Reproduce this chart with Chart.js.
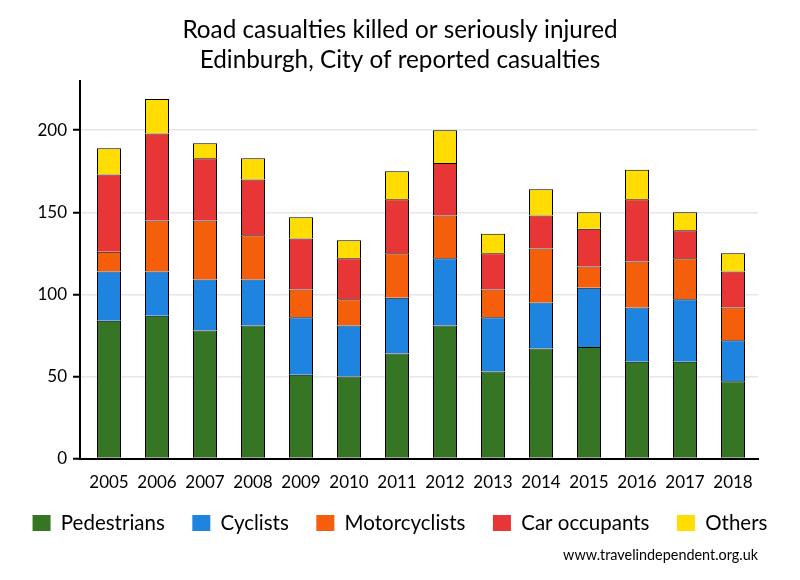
<!DOCTYPE html>
<html>
<head>
<meta charset="utf-8">
<script src="https://cdn.jsdelivr.net/npm/chart.js@4.4.1/dist/chart.umd.min.js"></script>
<style>
  html, body { margin: 0; padding: 0; background: #ffffff; }
  #wrap { width: 800px; height: 580px; position: relative; }
</style>
</head>
<body>
<div id="wrap"><canvas id="c" width="800" height="580"></canvas></div>
<script>
const years = ['2005','2006','2007','2008','2009','2010','2011','2012','2013','2014','2015','2016','2017','2018'];
const pedestrians   = [84, 87, 78, 81, 51, 50, 64, 81, 53, 67, 68, 59, 59, 47];
const cyclists      = [30, 27, 31, 28, 35, 31, 34, 41, 33, 28, 36, 33, 38, 25];
const motorcyclists = [12, 31, 36, 27, 17, 16, 27, 26, 17, 33, 13, 28, 25, 20];
const carOccupants  = [47, 53, 38, 34, 31, 25, 33, 32, 22, 20, 23, 38, 17, 22];
const others        = [16, 21,  9, 13, 13, 11, 17, 20, 12, 16, 10, 18, 11, 11];
const yTicks = [0, 50, 100, 150, 200];
const titleLines = ['Road casualties killed or seriously injured', 'Edinburgh, City of reported casualties'];
const footerText = 'www.travelindependent.org.uk';

const FONT = 'Lato';
const firstYear = Number(years[0]);
const lastYear = Number(years[years.length - 1]);
const xMin = firstYear - 29 / 48;
const xMax = xMin + 14.125;

function ds(label, data, color) {
  return {
    label: label,
    data: data,
    backgroundColor: color,
    borderColor: '#000000',
    borderWidth: 1,
    barPercentage: 0.5,
    categoryPercentage: 1.0
  };
}

new Chart(document.getElementById('c'), {
  type: 'bar',
  data: {
    labels: years,
    datasets: [
      ds('Pedestrians', pedestrians, '#367523'),
      ds('Cyclists', cyclists, '#1e84e0'),
      ds('Motorcyclists', motorcyclists, '#f55f0b'),
      ds('Car occupants', carOccupants, '#e83535'),
      ds('Others', others, '#ffdd00')
    ]
  },
  options: {
    responsive: false,
    animation: false,
    devicePixelRatio: 1,
    layout: { padding: 0 },
    plugins: {
      tooltip: { enabled: false },
      title: {
        display: true,
        text: titleLines,
        color: '#000000',
        font: { family: FONT, size: 24.3, weight: 'normal', lineHeight: 30 / 24.3 },
        padding: { top: 15, bottom: 6 }
      },
      subtitle: {
        display: true,
        text: footerText,
        position: 'bottom',
        align: 'end',
        fullSize: false,
        color: '#000000',
        font: { family: FONT, size: 14.4, weight: 'normal', lineHeight: 16.8 / 14.4 },
        padding: { top: 3.35, bottom: 16.6 }
      },
      legend: {
        display: true,
        position: 'bottom',
        labels: {
          color: '#000000',
          font: { family: FONT, size: 20.5 },
          boxWidth: 18,
          boxHeight: 16,
          padding: 27.5,
          generateLabels: function (chart) {
            return chart.data.datasets.map(function (d, i) {
              return {
                text: d.label,
                fillStyle: d.backgroundColor,
                strokeStyle: d.backgroundColor,
                lineWidth: 0,
                hidden: false,
                datasetIndex: i,
                fontColor: '#000000'
              };
            });
          }
        }
      }
    },
    scales: {
      x: {
        type: 'linear',
        stacked: true,
        offset: false,
        min: xMin,
        max: xMax,
        grid: { display: false, drawTicks: false },
        border: { display: true, color: '#000000', width: 2 },
        ticks: {
          stepSize: 1,
          includeBounds: false,
          autoSkip: false,
          maxRotation: 0,
          mirror: true,
          padding: -34.2,
          color: '#000000',
          font: { family: FONT, size: 17 },
          callback: function (v) { return years.indexOf(String(v)) >= 0 ? String(v) : ''; }
        },
        afterFit: function (s) { s.height = 26.75; }
      },
      y: {
        type: 'linear',
        stacked: true,
        min: 0,
        max: 230,
        grid: { color: '#e6e6e6', lineWidth: 1.5, tickColor: '#000000', tickLength: 7, tickWidth: 2 },
        border: { display: true, color: '#000000', width: 2 },
        ticks: {
          stepSize: 50,
          includeBounds: false,
          crossAlign: 'near',
          padding: 6,
          color: '#000000',
          font: { family: FONT, size: 17 },
          callback: function (v) { return yTicks.indexOf(v) >= 0 ? String(v) : ''; }
        },
        afterFit: function (s) { s.width = 80; }
      },
      yRight: {
        type: 'linear',
        position: 'right',
        display: true,
        grid: { display: false, drawTicks: false },
        border: { display: false },
        ticks: { display: false },
        afterFit: function (s) { s.width = 42; }
      }
    }
  }
});
</script>
</body>
</html>
